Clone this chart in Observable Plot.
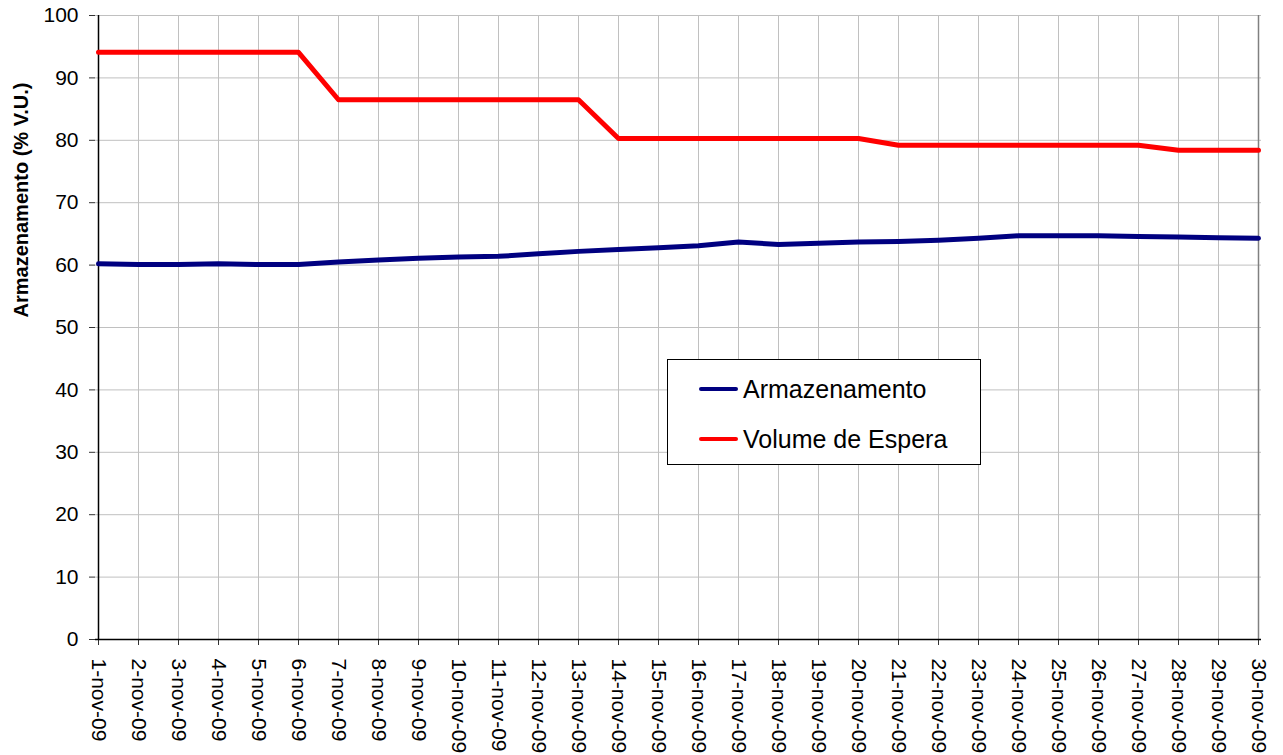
<!DOCTYPE html>
<html><head><meta charset="utf-8">
<script src="https://cdn.jsdelivr.net/npm/d3@7"></script>
<script src="https://cdn.jsdelivr.net/npm/@observablehq/plot@0.6"></script>
<style>
body{margin:0;background:#fff;font-family:"Liberation Sans",Arial,sans-serif;}
#wrap{position:relative;width:1283px;height:755px;}
#legend{position:absolute;left:667px;top:359px;width:312px;height:104px;border:1px solid #000;background:#fff;}
.sw{position:absolute;left:31px;width:39px;height:4px;border-radius:2px;}
.lt{position:absolute;left:75px;font-size:25px;line-height:30px;color:#000;white-space:nowrap;}
</style></head><body><div id="wrap"></div>
<script>
const dayLabels = ["1-nov-09","2-nov-09","3-nov-09","4-nov-09","5-nov-09","6-nov-09","7-nov-09","8-nov-09","9-nov-09","10-nov-09",
  "11-nov-09","12-nov-09","13-nov-09","14-nov-09","15-nov-09","16-nov-09","17-nov-09","18-nov-09","19-nov-09","20-nov-09",
  "21-nov-09","22-nov-09","23-nov-09","24-nov-09","25-nov-09","26-nov-09","27-nov-09","28-nov-09","29-nov-09","30-nov-09"];
const yTicks = [0,10,20,30,40,50,60,70,80,90,100];
const armazenamento = [60.2,60.1,60.1,60.2,60.1,60.1,60.5,60.8,61.1,61.3,61.4,61.8,62.2,62.5,62.8,63.1,63.7,63.3,63.5,63.7,63.8,64.0,64.3,64.7,64.7,64.7,64.6,64.5,64.4,64.3];
const volumeEspera = [94.1,94.1,94.1,94.1,94.1,94.1,86.5,86.5,86.5,86.5,86.5,86.5,86.5,80.3,80.3,80.3,80.3,80.3,80.3,80.3,79.2,79.2,79.2,79.2,79.2,79.2,79.2,78.4,78.4,78.4];
const seriesNames = ["Armazenamento","Volume de Espera"];
const seriesColors = ["#000080","#ff0000"];
const yTitle = "Armazenamento (% V.U.)";

const rowsA = dayLabels.map((d,i)=>({day:d, value:armazenamento[i]}));
const rowsV = dayLabels.map((d,i)=>({day:d, value:volumeEspera[i]}));

const chart = Plot.plot({
  width:1283, height:755,
  marginLeft:95, marginRight:22, marginTop:15, marginBottom:116,
  style:{fontFamily:'"Liberation Sans", Arial, sans-serif', background:"#fff", overflow:"visible"},
  x:{type:"point", domain:dayLabels, padding:0},
  y:{domain:[0,100]},
  marks:[
    Plot.gridY(yTicks, {stroke:"#c0c0c0", strokeOpacity:1, strokeWidth:1}),
    Plot.gridX({stroke:"#c0c0c0", strokeOpacity:1, strokeWidth:1}),
    Plot.ruleX([dayLabels[dayLabels.length-1]], {stroke:"#808080", strokeWidth:1.5}),
    Plot.axisY(yTicks, {tickSize:6, tickPadding:11, fontSize:21, label:null, stroke:"#333", fill:"#000"}),
    Plot.axisX({tickSize:6, tickFormat:()=>"", label:null, stroke:"#333"}),
    Plot.text(dayLabels, {x:d=>d, frameAnchor:"bottom", text:d=>d, rotate:90, textAnchor:"start", lineAnchor:"middle", dy:19, fontSize:21, fill:"#000"}),
    Plot.text([yTitle], {frameAnchor:"left", text:d=>d, rotate:-90, dx:-74, dy:-10, fontSize:20, fontWeight:"bold", fill:"#000"}),
    Plot.ruleY([0], {stroke:"#000", strokeWidth:1.5}),
    Plot.ruleX([dayLabels[0]], {stroke:"#000", strokeWidth:1.5}),
    Plot.line(rowsA, {x:"day", y:"value", stroke:seriesColors[0], strokeWidth:5}),
    Plot.line(rowsV, {x:"day", y:"value", stroke:seriesColors[1], strokeWidth:5})
  ]
});
const wrap = document.getElementById("wrap");
wrap.appendChild(chart);
const legend = document.createElement("div");
legend.id = "legend";
seriesNames.forEach((name,i)=>{
  const cy = i===0 ? 29 : 79;
  const sw = document.createElement("div");
  sw.className = "sw"; sw.style.top = (cy-2)+"px"; sw.style.background = seriesColors[i];
  const t = document.createElement("div");
  t.className = "lt"; t.style.top = (cy-15)+"px"; t.textContent = name;
  legend.appendChild(sw); legend.appendChild(t);
});
wrap.appendChild(legend);
</script>
</body></html>
